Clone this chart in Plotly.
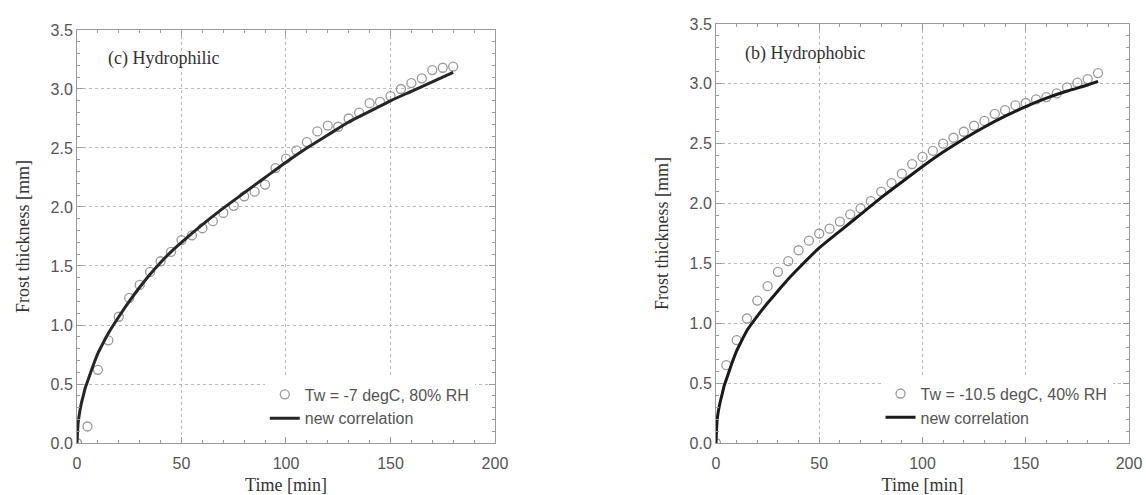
import plotly.graph_objects as go

# Hydrophilic surface, Tw = -7 degC, 80% RH
t_phil = [0, 5, 10, 15, 20, 25, 30, 35, 40, 45, 50, 55, 60, 65, 70, 75, 80, 85, 90,
          95, 100, 105, 110, 115, 120, 125, 130, 135, 140, 145, 150, 155, 160, 165,
          170, 175, 180]
d_phil = [0.00, 0.14, 0.62, 0.87, 1.07, 1.23, 1.34, 1.45, 1.54, 1.62, 1.72, 1.76,
          1.82, 1.88, 1.95, 2.01, 2.09, 2.13, 2.19, 2.33, 2.41, 2.48, 2.55, 2.64,
          2.69, 2.68, 2.75, 2.80, 2.88, 2.89, 2.94, 3.00, 3.05, 3.09, 3.16, 3.18, 3.19]

# Correlation curve, hydrophilic
tc_phil = [0, 0.5, 1, 2, 3, 4, 5, 6, 8, 10, 12, 15, 20, 25, 30, 35, 40, 45, 50, 60,
           70, 80, 90, 100, 110, 120, 130, 140, 150, 160, 170, 180]
dc_phil = [0.00, 0.16, 0.23, 0.33, 0.40, 0.47, 0.52, 0.57, 0.67, 0.76, 0.83, 0.93,
           1.07, 1.20, 1.32, 1.43, 1.53, 1.62, 1.70, 1.85, 1.99, 2.12, 2.25, 2.38,
           2.50, 2.61, 2.72, 2.81, 2.90, 2.98, 3.06, 3.14]

# Hydrophobic surface, Tw = -10.5 degC, 40% RH
t_phob = [0, 5, 10, 15, 20, 25, 30, 35, 40, 45, 50, 55, 60, 65, 70, 75, 80, 85, 90,
          95, 100, 105, 110, 115, 120, 125, 130, 135, 140, 145, 150, 155, 160, 165,
          170, 175, 180, 185]
d_phob = [0.00, 0.65, 0.86, 1.04, 1.19, 1.31, 1.43, 1.52, 1.61, 1.69, 1.75, 1.79,
          1.85, 1.91, 1.96, 2.02, 2.10, 2.17, 2.25, 2.33, 2.39, 2.44, 2.50, 2.55,
          2.60, 2.65, 2.69, 2.75, 2.78, 2.82, 2.84, 2.87, 2.89, 2.92, 2.97, 3.01,
          3.04, 3.09]

# Correlation curve, hydrophobic
tc_phob = [0, 0.5, 1, 2, 3, 4, 5, 6, 8, 10, 12, 15, 20, 25, 30, 35, 40, 50, 60, 70,
           80, 90, 100, 110, 120, 130, 140, 150, 160, 170, 180, 185]
dc_phob = [0.00, 0.18, 0.25, 0.34, 0.41, 0.48, 0.53, 0.58, 0.68, 0.77, 0.84, 0.94,
           1.06, 1.17, 1.27, 1.37, 1.46, 1.63, 1.77, 1.91, 2.05, 2.18, 2.31, 2.43,
           2.54, 2.64, 2.73, 2.81, 2.88, 2.94, 2.99, 3.02]

panel_labels = ["(c) Hydrophilic", "(b) Hydrophobic"]
legend_labels = [["Tw = -7 degC, 80% RH", "new correlation"],
                 ["Tw = -10.5 degC, 40% RH", "new correlation"]]

SANS = "Liberation Sans, Arial, sans-serif"
SERIF = "Liberation Serif, Times New Roman, serif"
GRID = "#b8b8b8"
FRAME = "#9a9a9a"

fig = go.Figure()

fig.add_trace(go.Scatter(
    x=t_phil, y=d_phil, mode="markers", name=legend_labels[0][0],
    marker=dict(symbol="circle-open", size=9, color="#9a9a9a", line=dict(width=1.3)),
    xaxis="x", yaxis="y", legend="legend"))
fig.add_trace(go.Scatter(
    x=tc_phil, y=dc_phil, mode="lines", name=legend_labels[0][1],
    line=dict(color="#262626", width=3, shape="spline", smoothing=0.6),
    xaxis="x", yaxis="y", legend="legend"))
fig.add_trace(go.Scatter(
    x=t_phob, y=d_phob, mode="markers", name=legend_labels[1][0],
    marker=dict(symbol="circle-open", size=9, color="#9a9a9a", line=dict(width=1.3)),
    xaxis="x2", yaxis="y2", legend="legend2"))
fig.add_trace(go.Scatter(
    x=tc_phob, y=dc_phob, mode="lines", name=legend_labels[1][1],
    line=dict(color="#1a1a1a", width=3, shape="spline", smoothing=0.6),
    xaxis="x2", yaxis="y2", legend="legend2"))


def xaxis_style(domain, anchor):
    return dict(
        domain=domain, anchor=anchor, range=[0, 200], dtick=50, tick0=0,
        showline=True, linecolor=FRAME, linewidth=1, mirror="ticks",
        ticks="inside", ticklen=6, tickcolor=FRAME,
        minor=dict(dtick=10, ticks="inside", ticklen=3, tickcolor=FRAME),
        showgrid=True, gridcolor=GRID, griddash="dot", gridwidth=1,
        zeroline=False, ticklabelstandoff=6, automargin=False,
        tickfont=dict(family=SANS, size=16, color="#555555"),
        title=dict(text="Time [min]", font=dict(family=SERIF, size=18, color="#333333"),
                   standoff=8),
    )


def yaxis_style(domain, anchor):
    return dict(
        domain=domain, anchor=anchor, range=[0, 3.5], dtick=0.5, tick0=0,
        tickformat=".1f",
        showline=True, linecolor=FRAME, linewidth=1, mirror="ticks",
        ticks="inside", ticklen=6, tickcolor=FRAME,
        minor=dict(dtick=0.1, ticks="inside", ticklen=3, tickcolor=FRAME),
        showgrid=True, gridcolor=GRID, griddash="dot", gridwidth=1,
        zeroline=False, automargin=False,
        tickfont=dict(family=SANS, size=16, color="#555555"),
        title=dict(text="Frost thickness [mm]",
                   font=dict(family=SERIF, size=18, color="#333333"), standoff=16),
    )


# plot area: x 77..1129, y 24..443 px
fig.update_layout(
    width=1146, height=495,
    margin=dict(l=77, r=17, t=24, b=52, autoexpand=False),
    paper_bgcolor="white", plot_bgcolor="white",
    xaxis=xaxis_style([0, 0.3973], "y"),
    yaxis=yaxis_style([0, 0.9857], "x"),
    xaxis2=xaxis_style([0.6074, 1.0], "y2"),
    yaxis2=yaxis_style([0, 1.0], "x2"),
    legend=dict(x=0.1785, xanchor="left", y=0.018, yanchor="bottom",
                bgcolor="white", borderwidth=0,
                font=dict(family=SANS, size=16, color="#555555"),
                tracegroupgap=0, itemwidth=30),
    legend2=dict(x=0.7638, xanchor="left", y=0.02, yanchor="bottom",
                 bgcolor="white", borderwidth=0,
                 font=dict(family=SANS, size=16, color="#555555"),
                 tracegroupgap=0, itemwidth=30),
    annotations=[
        dict(text=panel_labels[0], xref="x", yref="y", x=14, y=3.26,
             xanchor="left", yanchor="middle", showarrow=False,
             font=dict(family=SERIF, size=18, color="#333333")),
        dict(text=panel_labels[1], xref="x2", yref="y2", x=13, y=3.25,
             xanchor="left", yanchor="middle", showarrow=False,
             font=dict(family=SERIF, size=18, color="#333333")),
    ],
)

fig.write_html("out.html")
